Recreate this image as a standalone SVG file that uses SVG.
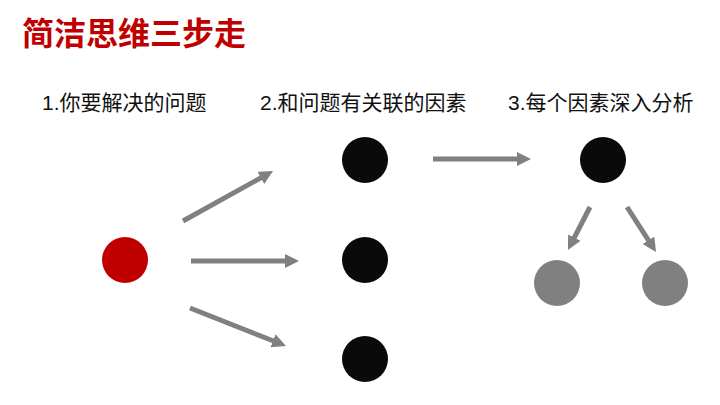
<svg xmlns="http://www.w3.org/2000/svg" width="720" height="405" viewBox="0 0 720 405">
<style>
.title{font-family:"Liberation Sans","Noto Sans CJK SC",sans-serif;font-size:32px;font-weight:bold;fill:#c00000}
.step{font-family:"Liberation Sans","Noto Sans CJK SC",sans-serif;font-size:21px;fill:#111}
.red{fill:#c00000}
.black{fill:#0a0a0a}
.gray{fill:#808080}
.conn line{stroke:#808080;stroke-width:5;marker-end:url(#ah)}
</style>
<defs>
<marker id="ah" markerUnits="userSpaceOnUse" markerWidth="14" markerHeight="14" refX="4" refY="7" orient="auto">
<path d="M0,0 L14,7 L0,14 z" fill="#808080"/>
</marker>
</defs>
<rect width="720" height="405" fill="#fff"/>
<text class="title" x="22" y="45">简洁思维三步走</text>
<text class="step" x="42" y="110">1.你要解决的问题</text>
<text class="step" x="260" y="110">2.和问题有关联的因素</text>
<text class="step" x="508" y="110">3.每个因素深入分析</text>
<g class="conn">
<line x1="183" y1="221" x2="264.3" y2="175.9"/>
<line x1="191" y1="261" x2="289" y2="261"/>
<line x1="190" y1="308" x2="276.7" y2="342.3"/>
<line x1="433" y1="159" x2="521" y2="159"/>
<line x1="590" y1="207" x2="572.5" y2="241.1"/>
<line x1="627" y1="207" x2="650.6" y2="243.6"/>
</g>
<g id="problem"><circle class="red" cx="125" cy="260" r="23"/></g>
<g id="factor1"><circle class="black" cx="365" cy="160" r="23"/></g>
<g id="factor2"><circle class="black" cx="365" cy="260" r="23"/></g>
<g id="factor3"><circle class="black" cx="365" cy="359" r="23"/></g>
<g id="factor-main"><circle class="black" cx="603" cy="160" r="23"/></g>
<g id="sub1"><circle class="gray" cx="557" cy="283" r="23"/></g>
<g id="sub2"><circle class="gray" cx="665" cy="283" r="23"/></g>
</svg>
